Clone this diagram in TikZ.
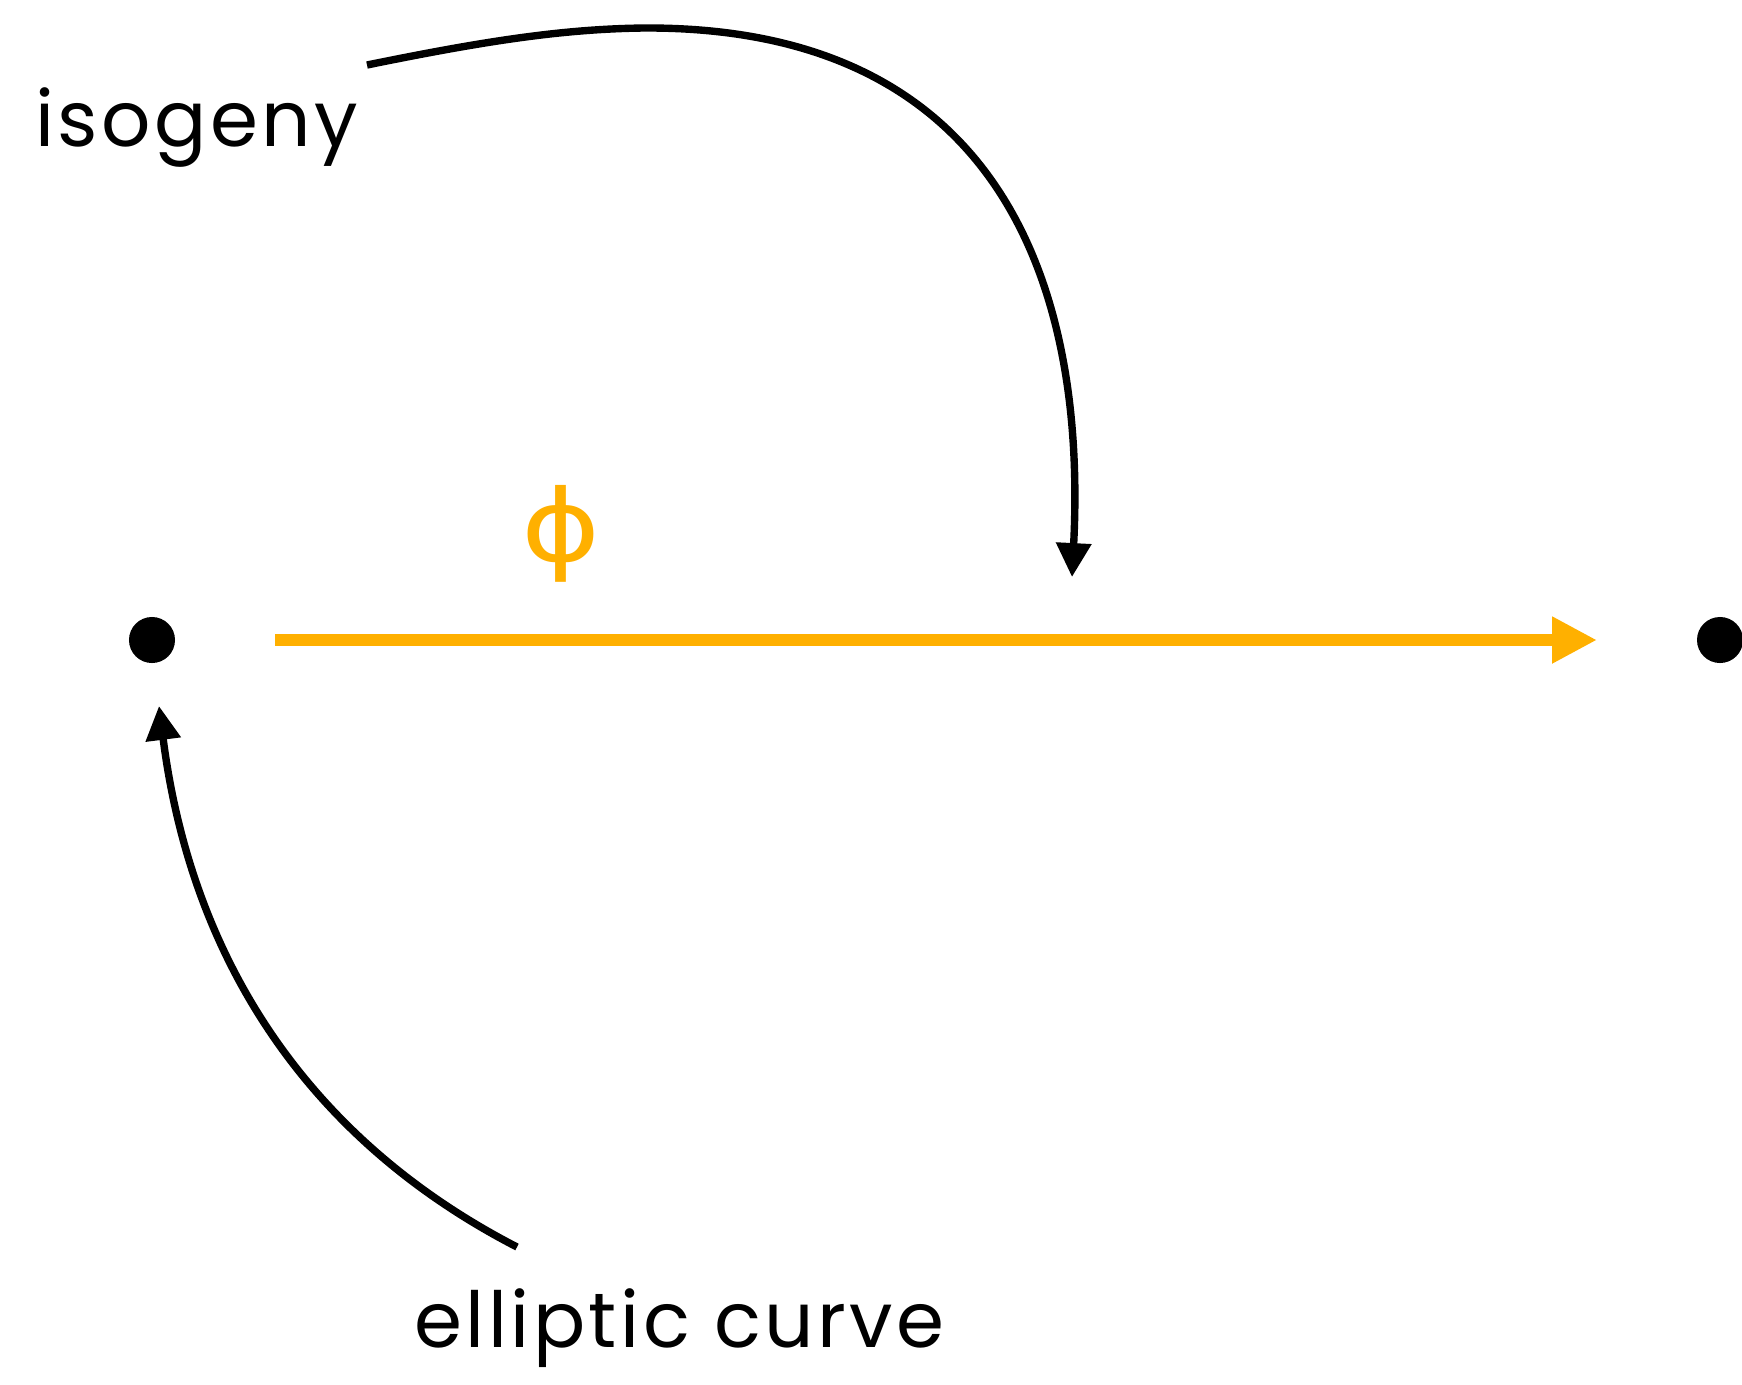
\documentclass[tikz,border=0pt]{standalone}
\usepackage{fontspec}
\setmainfont{Poppins}[LetterSpace=4.5]
\newfontfamily\phifont{DejaVu Sans}
\usetikzlibrary{arrows.meta}
\definecolor{amber}{RGB}{255,176,0}
\tikzset{
  dot/.style={circle,fill=black,inner sep=0pt,minimum size=26.2pt},
  lbl/.style={inner sep=0pt,anchor=base west,font=\fontsize{44}{52}\selectfont},
  callout/.style={draw=black,line width=4.2pt,-{Triangle[length=19.3pt,width=19.3pt]}},
  mapline/.style={draw=amber,line width=6.6pt,-{Triangle[length=25.6pt,width=25pt]}},
}
\begin{document}
\begin{tikzpicture}[x=0.02cm,y=-0.02cm]
\useasboundingbox[fill=white] (0,0) rectangle (1742,1384);
\node[dot] (E1) at (152,640) {};
\node[dot] (E2) at (1720,640) {};
\coordinate (mapstart) at (275,640);
\coordinate (mapend) at (1597,640);
\draw[mapline] (mapstart) -- (mapend);
\node[font=\phifont\fontsize{57}{60}\selectfont,text=amber,inner sep=0pt] (phi) at (561,534) {\scalebox{1.2}[1]{ϕ}};
\node[lbl] (iso) at (35,146) {isogeny};
\node[lbl] (ell) at (414,1347) {elliptic curve};
\coordinate (isostart) at (367,65);
\coordinate (isotop) at (644,28);
\coordinate (isotip) at (1072,577);
\coordinate (ellstart) at (517,1247);
\coordinate (elltip) at (159,706);
\draw[callout] (isostart) .. controls (480,42) and (560,29) .. (isotop)
  .. controls (1060,26) and (1082,380) .. (isotip);
\draw[callout] (ellstart) .. controls (300,1135) and (190,950) .. (elltip);
\end{tikzpicture}
\end{document}
